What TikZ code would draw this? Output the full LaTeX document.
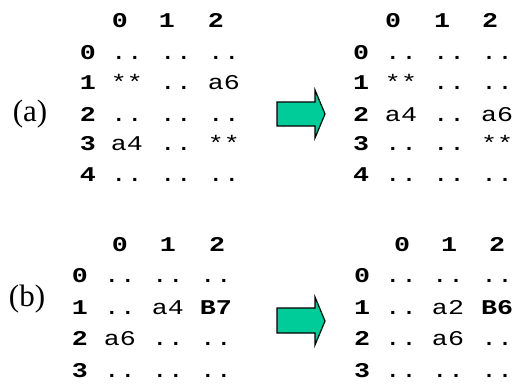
\documentclass[tikz,border=0pt]{standalone}
\usepackage{fontspec}
\setmainfont{Liberation Serif}
\newfontfamily\gmono[FakeStretch=1.27]{Liberation Mono}
\definecolor{arrowgreen}{HTML}{00CC99}
\tikzset{
  cell/.style={anchor=base, inner sep=0pt, font=\gmono\fontsize{21}{25}\selectfont},
  head/.style={anchor=base, inner sep=0pt, font=\gmono\bfseries\fontsize{21}{25}\selectfont},
  tag/.style={anchor=center, inner sep=0pt, font=\fontsize{31}{36}\selectfont},
  bigarrow/.style={fill=arrowgreen, draw=black, line width=1.2pt, line join=miter},
}
\begin{document}
\begin{tikzpicture}[x=1pt,y=1pt]
\useasboundingbox (0,0) rectangle (517,384);
% ---------- (a) ----------
\node[tag] (taga) at (30,270) {(a)};
% left grid
\node[head] (aLh0) at (120,356) {0};
\node[head] (aLh1) at (167,356) {1};
\node[head] (aLh2) at (216,356) {2};
\foreach \n/\y/\p/\q/\s in {0/325/../../.., 1/295/**/../a6, 2/263/../../.., 3/234/a4/../**, 4/203/../../..}{
  \node[head] (aLr\n) at (88,\y) {\n};
  \node[cell] (aL\n c0) at (127,\y) {\p};
  \node[cell] (aL\n c1) at (176,\y) {\q};
  \node[cell] (aL\n c2) at (224,\y) {\s};
}
% arrow
\draw[bigarrow] (277,282) -- (315,282) -- (315,294) -- (325,270) -- (315,246) -- (315,258) -- (277,258) -- cycle;
% right grid
\node[head] (aRh0) at (393,356) {0};
\node[head] (aRh1) at (442,356) {1};
\node[head] (aRh2) at (490,356) {2};
\foreach \n/\y/\p/\q/\s in {0/325/../../.., 1/295/**/../.., 2/263/a4/../a6, 3/234/../../**, 4/203/../../..}{
  \node[head] (aRr\n) at (361,\y) {\n};
  \node[cell] (aR\n c0) at (401,\y) {\p};
  \node[cell] (aR\n c1) at (449,\y) {\q};
  \node[cell] (aR\n c2) at (497,\y) {\s};
}
% ---------- (b) ----------
\node[tag] (tagb) at (27,85) {(b)};
% left grid
\node[head] (bLh0) at (120,133) {0};
\node[head] (bLh1) at (168,133) {1};
\node[head] (bLh2) at (217,133) {2};
\foreach \n/\y/\p/\q/\s in {0/102/../../.., 1/70/../a4/\textbf{B7}, 2/39/a6/../.., 3/7/../../..}{
  \node[head] (bLr\n) at (80,\y) {\n};
  \node[cell] (bL\n c0) at (120,\y) {\p};
  \node[cell] (bL\n c1) at (168,\y) {\q};
  \node[cell] (bL\n c2) at (216,\y) {\s};
}
% arrow
\draw[bigarrow] (277,76) -- (315,76) -- (315,87) -- (325,63) -- (315,39) -- (315,51) -- (277,51) -- cycle;
% right grid
\node[head] (bRh0) at (402,133) {0};
\node[head] (bRh1) at (449,133) {1};
\node[head] (bRh2) at (497,133) {2};
\foreach \n/\y/\p/\q/\s in {0/102/../../.., 1/70/../a2/\textbf{B6}, 2/39/../a6/.., 3/7/../../..}{
  \node[head] (bRr\n) at (362,\y) {\n};
  \node[cell] (bR\n c0) at (401,\y) {\p};
  \node[cell] (bR\n c1) at (448,\y) {\q};
  \node[cell] (bR\n c2) at (497,\y) {\s};
}
\end{tikzpicture}
\end{document}
